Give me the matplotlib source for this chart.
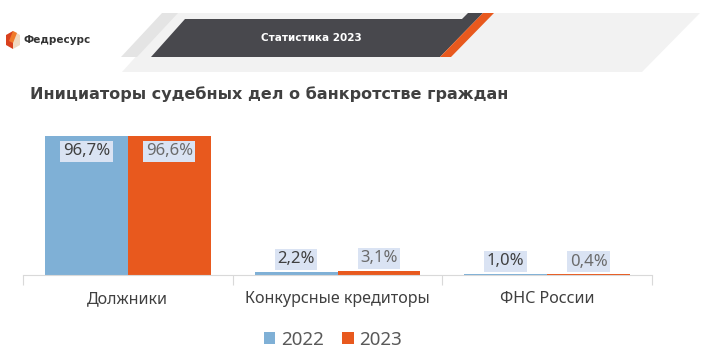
import matplotlib.pyplot as plt
from matplotlib.patches import Polygon

plt.rcParams['font.family'] = ['Noto Sans', 'DejaVu Sans']

# данные
categories = ['Должники', 'Конкурсные кредиторы', 'ФНС России']
years = ['2022', '2023']
values_2022 = [96.7, 2.2, 1.0]
values_2023 = [96.6, 3.1, 0.4]
labels_2022 = ['96,7%', '2,2%', '1,0%']
labels_2023 = ['96,6%', '3,1%', '0,4%']

title = 'Инициаторы судебных дел о банкротстве граждан'
header = 'Статистика 2023'
brand = 'Федресурс'

C2022 = '#7fb0d6'
C2023 = '#e8591e'
W, H = 708, 361
BOLD = ['DejaVu Sans']


def px(x0, y0, w, h):
    """пиксели -> координаты фигуры"""
    return [x0 / W, 1 - (y0 + h) / H, w / W, h / H]


fig = plt.figure(figsize=(W / 100, H / 100), dpi=100)

# фон / шапка в пиксельных координатах
bg = fig.add_axes([0, 0, 1, 1])
bg.set_xlim(0, W)
bg.set_ylim(H, 0)
bg.axis('off')

bg.add_patch(Polygon([(175, 13), (700, 13), (642, 72), (122, 72)], closed=True,
                     facecolor='#f2f2f2', edgecolor='none'))
bg.add_patch(Polygon([(162, 13), (178, 13), (137, 57), (121, 57)], closed=True,
                     facecolor='#e4e4e4', edgecolor='none'))
bg.add_patch(Polygon([(185, 19), (462, 19), (468, 13), (483, 13), (440, 57), (151, 57)],
                     closed=True, facecolor='#48484d', edgecolor='none'))
bg.add_patch(Polygon([(483, 13), (494, 13), (451, 57), (440, 57)], closed=True,
                     facecolor=C2023, edgecolor='none'))
bg.text(311, 38, header, color='white', fontsize=7.5, fontweight='bold',
        family=BOLD, ha='center', va='center')

# логотип
bg.add_patch(Polygon([(13, 31), (6, 35), (6, 45), (13, 49)], closed=True,
                     facecolor='#d9411e', edgecolor='none'))
bg.add_patch(Polygon([(13, 31), (20, 35), (20, 45), (13, 49)], closed=True,
                     facecolor='#f0d9c0', edgecolor='none'))
bg.add_patch(Polygon([(13, 31), (17, 33), (13, 43), (9, 41)], closed=True,
                     facecolor='#f07a2a', edgecolor='none'))
bg.text(23, 40, brand, color='#333333', fontsize=7.5, fontweight='bold',
        family=BOLD, va='center')

bg.text(30, 94, title, color='#404040', fontsize=11.5, fontweight='bold',
        family=BOLD, va='center')

# график
ax = fig.add_axes(px(23, 131, 629, 144))
x = list(range(len(categories)))
bw = 0.395
b1 = ax.bar([i - bw / 2 for i in x], values_2022, bw, color=C2022, label=years[0])
b2 = ax.bar([i + bw / 2 for i in x], values_2023, bw, color=C2023, label=years[1])

ax.set_xlim(-0.5, len(categories) - 0.5)
ax.set_ylim(0, 100)
ax.patch.set_alpha(0)
for s in ['top', 'left', 'right']:
    ax.spines[s].set_visible(False)
ax.spines['bottom'].set_color('#d9d9d9')
ax.set_yticks([])
ax.set_xticks([i - 0.5 for i in range(len(categories) + 1)])
ax.set_xticklabels([])
ax.tick_params(axis='x', length=7, color='#d9d9d9')
for i, c in enumerate(categories):
    ax.text(i, -17, c, ha='center', va='center', fontsize=11.6, color='#404040')

for bars, labels, tc in [(b1, labels_2022, '#404040'), (b2, labels_2023, '#6b6b6b')]:
    for rect, lab in zip(bars, labels):
        v = rect.get_height()
        off = -11 if v > 50 else 9
        ax.annotate(lab, (rect.get_x() + rect.get_width() / 2, v),
                    xytext=(0, off), textcoords='offset points', ha='center', va='center',
                    fontsize=12, color=tc,
                    bbox=dict(boxstyle='square,pad=0.15', facecolor='#dae3f3', edgecolor='none'))

fig.legend(loc='center', bbox_to_anchor=(333 / W, 1 - 340 / H), ncol=2, frameon=False,
           fontsize=13.5, handlelength=0.6, handleheight=0.6, handletextpad=0.3,
           columnspacing=1.0, labelcolor='#595959')

plt.savefig('out.png', dpi=100)
